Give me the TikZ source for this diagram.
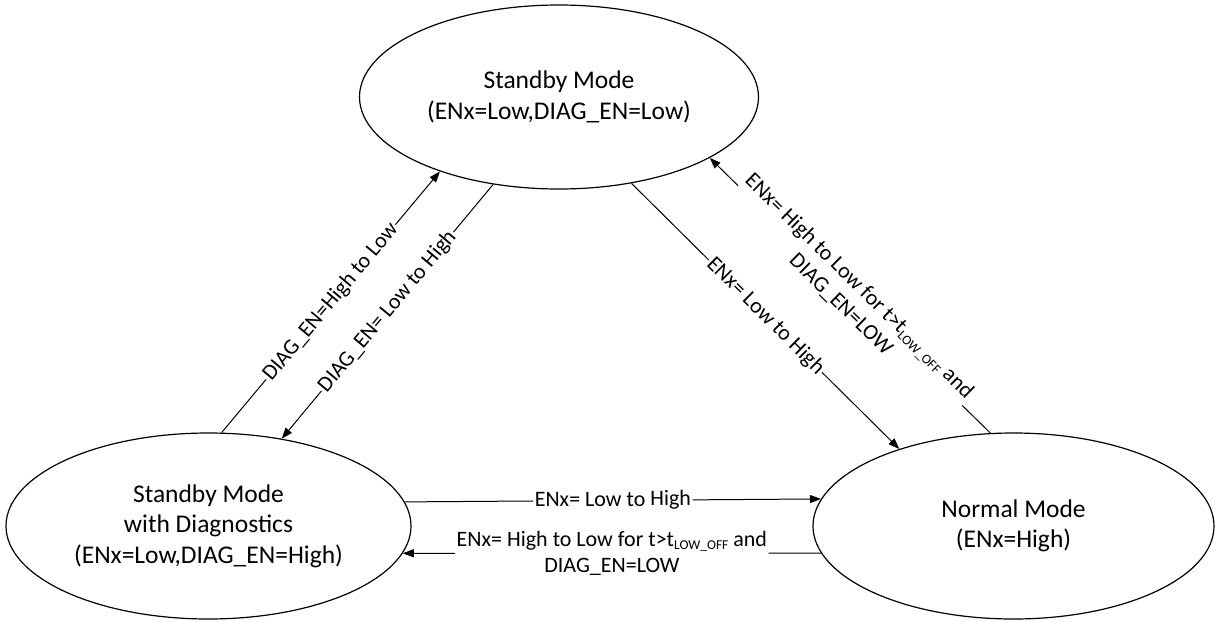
\documentclass[tikz,border=0pt]{standalone}
\usepackage{fontspec}
\setmainfont{Carlito}
\usetikzlibrary{arrows.meta,shapes.geometric}
\newcommand{\subLO}{\raisebox{-3.5pt}{\fontsize{13.5}{14}\selectfont LOW\_OFF}}
\begin{document}
\begin{tikzpicture}[x=1pt,y=-1pt,
  state/.style={ellipse,draw,line width=1.2pt,align=center,inner sep=0pt,
    font=\fontsize{25.5}{30.5}\selectfont},
  conn/.style={line width=1pt,-{Triangle[length=11pt,width=8pt]}},
  lbl/.style={fill=white,inner sep=1.5pt,align=center,sloped,midway,
    font=\fontsize{22}{26}\selectfont}]
\useasboundingbox (0,0) rectangle (1215,621);
\node[state,minimum width=399pt,minimum height=184pt] (T) at (559,97)
  {Standby Mode\\(ENx=Low,DIAG\_EN=Low)};
\node[state,minimum width=405pt,minimum height=186pt] (S) at (208.5,526)
  {Standby Mode\\with Diagnostics\\(ENx=Low,DIAG\_EN=High)};
\node[state,minimum width=401pt,minimum height=186pt] (N) at (1013.5,526)
  {Normal Mode\\(ENx=High)};
\draw[conn] (S.82.8) -- node[lbl]{DIAG\_EN=High to Low} (T.212.2);
\draw[conn] (T.233.1) -- node[lbl]{DIAG\_EN= Low to High} (S.50.1);
\draw[conn] (T.310) -- node[lbl]{ENx= Low to High} (N.146.4);
\draw[conn] (N.104.9) -- node[lbl]{ENx= High to Low for t>t\subLO{} and\\DIAG\_EN=LOW} (T.338.3);
\draw[conn] (S.7) -- node[lbl]{ENx= Low to High} (N.172.9);
\draw[conn] (N.188.7) -- node[lbl]{ENx= High to Low for t>t\subLO{} and\\DIAG\_EN=LOW} (S.-8.6);
\end{tikzpicture}
\end{document}
